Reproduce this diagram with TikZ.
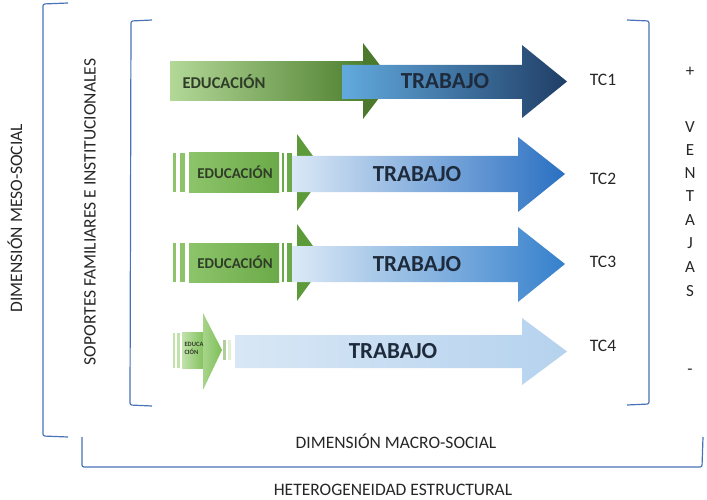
\documentclass[tikz,border=0pt]{standalone}
\usepackage{fontspec}
\setmainfont{Carlito}
\definecolor{brkblue}{HTML}{4A72B8}
\definecolor{txtgray}{HTML}{262626}
\definecolor{trabtxt}{HTML}{1E2B3C}
\definecolor{edutxt}{HTML}{2F3D28}
\definecolor{gOneL}{HTML}{B3D898}
\definecolor{gOneR}{HTML}{4F8030}
\definecolor{gOneH}{HTML}{4B7A2C}
\definecolor{gMid}{HTML}{6BAA48}
\definecolor{gMidL}{HTML}{8DC46B}
\definecolor{gMidH}{HTML}{5C9A3A}
\definecolor{gFourL}{HTML}{C2E2AC}
\definecolor{gFourR}{HTML}{7EBF58}
\definecolor{bOneL}{HTML}{62AADE}
\definecolor{bOneM}{HTML}{4A90D0}
\definecolor{bOneR}{HTML}{1F3E66}
\definecolor{bTwoL}{HTML}{DAE8F6}
\definecolor{bTwoM}{HTML}{A2C5EA}
\definecolor{bTwoR}{HTML}{2A70C2}
\definecolor{bThrL}{HTML}{DCE9F6}
\definecolor{bThrM}{HTML}{A9CAEC}
\definecolor{bThrR}{HTML}{3580CC}
\definecolor{bFourL}{HTML}{D8E7F5}
\definecolor{bFourR}{HTML}{B5D2EE}
\tikzset{
  brk/.style={draw=brkblue, line width=1.2pt, rounded corners=2pt},
  lbl/.style={font=\fontsize{17.5}{20}\selectfont, text=txtgray, inner sep=0pt},
  trab/.style={font=\bfseries\fontsize{23}{25}\selectfont, text=trabtxt, inner sep=0pt},
  edu/.style={font=\bfseries\fontsize{15}{17}\selectfont, text=edutxt, inner sep=0pt},
  eduone/.style={font=\bfseries\fontsize{16.5}{18}\selectfont, text=edutxt, inner sep=0pt},
  tc/.style={font=\fontsize{17.5}{20}\selectfont, text=txtgray, inner sep=0pt},
  vent/.style={font=\fontsize{17}{19}\selectfont, text=txtgray, inner sep=0pt},
}
\begin{document}
\begin{tikzpicture}[x=1pt,y=-1pt]
\useasboundingbox (0,0) rectangle (707,500);

% brackets
\draw[brk] (68,3) -- (43,4) -- (43,436) -- (68,437);
\draw[brk] (152,20) -- (131,21) -- (130,405) -- (152,406);
\draw[brk] (627,20) -- (649,21) -- (649,404) -- (627,405);
\draw[brk] (82,437) -- (82,467) -- (702,467) -- (703,437);

% ---------- row 1 ----------
\shade[left color=gOneL, right color=gOneR] (170,62) rectangle (363,101);
\fill[gOneH] (363,43) -- (392,81) -- (363,119) -- cycle;
\shade[left color=bOneL, middle color=bOneM, right color=bOneR]
  (342,65) -- (522,65) -- (522,45) -- (567,81.5) -- (522,118) -- (522,99) -- (342,99) -- cycle;
\node[eduone] (e1) at (224,82) {EDUCACIÓN};
\node[trab] (t1) at (445,81) {TRABAJO};
\node[tc] (tc1) at (603,80) {TC1};

% ---------- row 2 ----------
\fill[gMidL] (173,153) rectangle (176,192);
\fill[gMidL] (180,153) rectangle (185,192);
\shade[left color=gMidL, right color=gMid] (189,153) rectangle (279,192);
\fill[gMid] (282,153) rectangle (284,192);
\fill[gMid] (287,153) rectangle (292,192);
\fill[gMidH] (297,134) -- (325,172.5) -- (297,211) -- cycle;
\shade[left color=bTwoL, middle color=bTwoM, right color=bTwoR]
  (292,156) -- (518,156) -- (518,137) -- (565,174) -- (518,212) -- (518,192) -- (292,192) -- cycle;
\node[edu] (e2) at (235,172.5) {EDUCACIÓN};
\node[trab] (t2) at (417,174) {TRABAJO};
\node[tc] (tc2) at (603,179) {TC2};

% ---------- row 3 ----------
\fill[gMidL] (173,243) rectangle (176,282);
\fill[gMidL] (180,243) rectangle (185,282);
\shade[left color=gMidL, right color=gMid] (189,243) rectangle (279,282);
\fill[gMid] (282,243) rectangle (284,282);
\fill[gMid] (287,243) rectangle (292,282);
\fill[gMidH] (297,224) -- (325,262.5) -- (297,301) -- cycle;
\shade[left color=bThrL, middle color=bThrM, right color=bThrR]
  (292,246) -- (518,246) -- (518,227) -- (565,264) -- (518,302) -- (518,282) -- (292,282) -- cycle;
\node[edu] (e3) at (235,262.5) {EDUCACIÓN};
\node[trab] (t3) at (417,264) {TRABAJO};
\node[tc] (tc3) at (603,262) {TC3};

% ---------- row 4 ----------
\fill[gFourL] (173,333) rectangle (175,368);
\fill[gFourL] (177,333) rectangle (180,368);
\shade[left color=gFourL, right color=gFourR] (182,332) rectangle (205,368);
\shade[left color=gFourL!60!gFourR, right color=gFourR] (203,313) -- (222,350) -- (203,390) -- cycle;
\fill[gFourR!70!gray!60] (223,340) rectangle (226,360);
\fill[gFourL!50!white] (228,340) rectangle (231,360);
\shade[left color=bFourL, right color=bFourR]
  (235,335) -- (522,335) -- (522,318) -- (567,351.5) -- (522,385) -- (522,368) -- (235,368) -- cycle;
\node[font=\bfseries\fontsize{6.5}{8}\selectfont, text=edutxt, inner sep=0pt, align=left] (e4) at (194,348) {EDUCA\\CIÓN};
\node[trab] (t4) at (393,351) {TRABAJO};
\node[tc] (tc4) at (603,346) {TC4};

% ---------- side labels ----------
\node[lbl, rotate=90] (meso) at (15,218) {DIMENSIÓN MESO-SOCIAL};
\node[lbl, rotate=90] (sop) at (90,212) {SOPORTES FAMILIARES E INSTITUCIONALES};
\node[lbl] (macro) at (396,441) {DIMENSIÓN MACRO-SOCIAL};
\node[lbl] (het) at (393,490) {HETEROGENEIDAD ESTRUCTURAL};

% ventajas column
\node[vent] (vp) at (690,72) {+};
\node[vent] (v1) at (690,127) {V};
\node[vent] (v2) at (690,150) {E};
\node[vent] (v3) at (690,173) {N};
\node[vent] (v4) at (690,196) {T};
\node[vent] (v5) at (690,220) {A};
\node[vent] (v6) at (690,243) {J};
\node[vent] (v7) at (690,267) {A};
\node[vent] (v8) at (690,291) {S};
\node[vent] (vm) at (690,372) {-};
\end{tikzpicture}
\end{document}
